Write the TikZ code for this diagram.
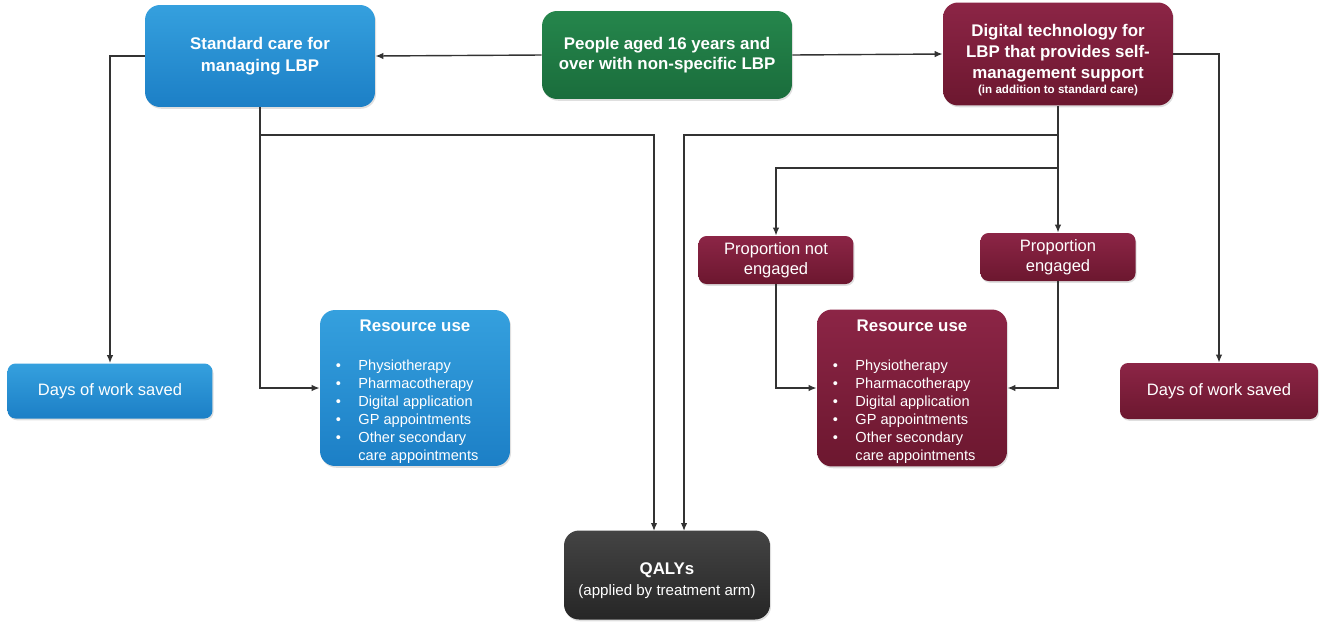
\documentclass[tikz,border=0pt]{standalone}
\usepackage{fontspec}
\setmainfont{Liberation Sans}
\usepackage{tikz}
\usetikzlibrary{arrows.meta,positioning,shadows}

\definecolor{bluetop}{HTML}{35A0DE}
\definecolor{bluebot}{HTML}{1C7FC6}
\definecolor{greentop}{HTML}{25864C}
\definecolor{greenbot}{HTML}{1A6D3C}
\definecolor{wintop}{HTML}{8C2546}
\definecolor{winbot}{HTML}{6C172F}
\definecolor{darktop}{HTML}{444444}
\definecolor{darkbot}{HTML}{262626}
\definecolor{linegrey}{HTML}{333333}

\newcommand{\reslist}{%
\rule{0pt}{12pt}{\bfseries\fontsize{9.6}{11}\selectfont Resource use}\\[14pt]
\begin{tabular}{@{}l@{\hspace{10pt}}l@{}}
\textbullet & Physiotherapy\\
\textbullet & Pharmacotherapy\\
\textbullet & Digital application\\
\textbullet & GP appointments\\
\textbullet & Other secondary\\
 & care appointments
\end{tabular}\hspace*{9pt}}

\begin{document}
\begin{tikzpicture}[x=0.02cm,y=-0.02cm,
  box/.style={rounded corners=0.3cm,text=white,align=center,inner sep=1pt,
    drop shadow={opacity=0.25,shadow xshift=0.6pt,shadow yshift=-1pt}},
  bluebox/.style={box,top color=bluetop,bottom color=bluebot},
  winebox/.style={box,top color=wintop,bottom color=winbot},
  headfont/.style={font=\bfseries\fontsize{9.6}{11.8}\selectfont},
  bodyfont/.style={font=\fontsize{9.4}{11.3}\selectfont},
  listfont/.style={font=\fontsize{8.3}{10.2}\selectfont,inner sep=0pt},
  arr/.style={-{Latex[length=1.6mm,width=1.3mm]},line width=0.8pt,draw=linegrey}]
\useasboundingbox (0,0) rectangle (1324,623);

\node[box,headfont,top color=greentop,bottom color=greenbot,minimum width=5cm,minimum height=1.76cm] (ppl) at (667,55) {People aged 16 years and\\over with non-specific LBP};
\node[bluebox,headfont,minimum width=4.6cm,minimum height=2.04cm] (std) at (260,56) {Standard care for\\[1pt]managing LBP};
\node[winebox,headfont,minimum width=4.6cm,minimum height=2.06cm] (dig) at (1058,54) {\rule{0pt}{14pt}Digital technology for\\LBP that provides self-\\management support\\[-3pt]{\fontsize{6.6}{7.5}\selectfont (in addition to standard care)}};

\node[bluebox,bodyfont,rounded corners=0.16cm,minimum width=4.1cm,minimum height=1.1cm] (daysL) at (110,391) {Days of work saved};
\node[bluebox,listfont,minimum width=3.8cm,minimum height=3.12cm] (resL) at (415,388) {\reslist};

\node[winebox,bodyfont,rounded corners=0.16cm,minimum width=3.1cm,minimum height=0.96cm] (pne) at (776,260) {Proportion not\\engaged};
\node[winebox,bodyfont,rounded corners=0.16cm,minimum width=3.1cm,minimum height=0.96cm] (pe) at (1058,257) {Proportion\\engaged};
\node[winebox,listfont,minimum width=3.8cm,minimum height=3.14cm] (resR) at (912,388) {\reslist};
\node[winebox,bodyfont,rounded corners=0.16cm,minimum width=3.96cm,minimum height=1.12cm] (daysR) at (1219,391) {Days of work saved};

\node[box,top color=darktop,bottom color=darkbot,minimum width=4.12cm,minimum height=1.78cm] (qaly) at (667,575) {\rule{0pt}{13pt}{\bfseries\fontsize{9.6}{11}\selectfont QALYs}\\{\fontsize{8.6}{10}\selectfont (applied by treatment arm)}};

\coordinate (sb) at (260,135);
\coordinate (db1) at (1058,135);
\coordinate (db2) at (1058,168);
\coordinate (qin1) at (654,531);
\coordinate (qin2) at (684,531);

\draw[arr] (ppl.west) -- (std.east);
\draw[arr] (ppl.east) -- (dig.west);
\draw[arr] (std.west) -| (daysL.north);
\draw[arr] (std.south) |- (resL.west);
\draw[arr] (sb) -| (qin1);
\draw[arr] (dig.east) -| (daysR.north);
\draw[arr] (dig.south) -- (pe.north);
\draw[arr] (db1) -| (qin2);
\draw[arr] (db2) -| (pne.north);
\draw[arr] (pne.south) |- (resR.west);
\draw[arr] (pe.south) |- (resR.east);
\end{tikzpicture}
\end{document}
